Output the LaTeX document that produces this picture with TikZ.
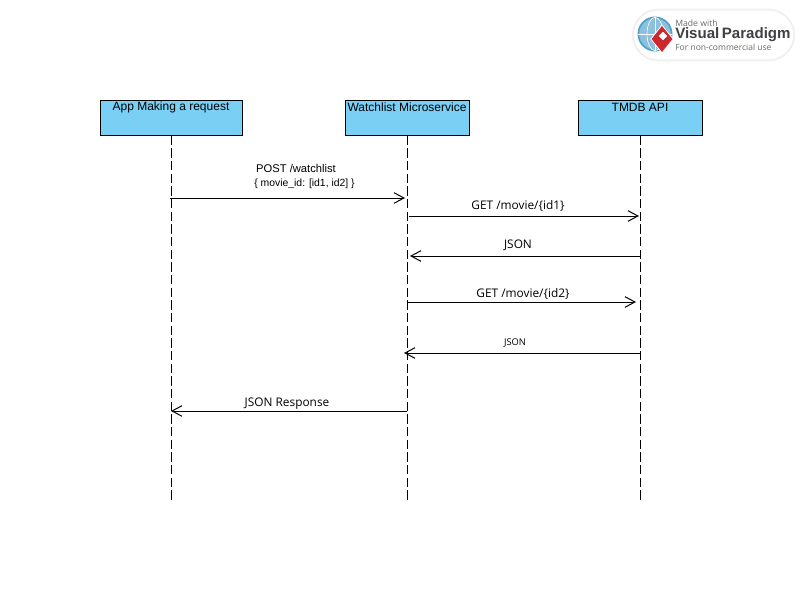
\documentclass[tikz,border=0pt]{standalone}
\usepackage{fontspec}
\setmainfont{Liberation Sans}
\newfontfamily\msgfont{Open Sans}
\usetikzlibrary{arrows.meta,
	shapes.geometric}
\definecolor{lifeblue}{rgb}{0.48, 0.81, 0.96}
\definecolor{globeblue}{rgb}{0.30, 0.62, 0.80}
\definecolor{badgered}{rgb}{0.80, 0.16, 0.18}
\definecolor{badgegray}{rgb}{0.42, 0.42, 0.42}
\definecolor{badgedark}{rgb}{0.25, 0.25, 0.27}
\begin{document}
\begin{tikzpicture}[x=0.75pt,y=-0.75pt]
      \tikzstyle{actor}=[draw=black,fill=lifeblue,line width=0.75pt,minimum height=26.25pt,inner sep=0pt]
      \tikzstyle{actortext}=[font=\fontsize{9}{10}\selectfont,inner sep=0pt]
      \tikzstyle{lifeline}=[black,line width=0.75pt,dash pattern=on 7pt off 2.5pt]
      \tikzstyle{message}=[black,line width=0.75pt,-{Straight Barb[length=7.5pt,width=8pt]}]
      \tikzstyle{msgtext}=[font=\msgfont\fontsize{8.9}{10}\selectfont,inner sep=0pt]
      \useasboundingbox (0,0) rectangle (803,601);
      % watermark
      \node[draw=black!6,line width=1.5pt,fill=white,rounded corners=19pt,minimum width=121pt,minimum height=38pt,inner sep=0pt] (badge) at (713.5,35) {};
      \node[circle,draw=globeblue,line width=1.2pt,fill=globeblue!65,minimum size=25pt,inner sep=0pt] (globe) at (655,34) {};
      \node[ellipse,draw=white,line width=0.5pt,minimum width=12pt,minimum height=25pt,inner sep=0pt] (meridian) at (655,34) {};
      \draw[white,line width=0.5pt] (globe.north) -- (globe.south) (globe.west) -- (globe.east);
      \node[diamond,draw=white,line width=0.6pt,fill=badgered,minimum width=17pt,minimum height=21pt,inner sep=0pt] (mark) at (662,39) {};
      \node[rectangle,draw=white,fill=white,rotate=45,minimum size=4pt,inner sep=0pt] (markhole) at (663,36) {};
      \node[anchor=west,text=badgegray,inner sep=0pt,font=\msgfont\fontsize{6.5}{7}\selectfont] (madewith) at (675,23) {Made with};
      \node[anchor=west,text=badgedark,inner sep=0pt,font=\bfseries\fontsize{11.3}{13}\selectfont] (vpname) at (675,35) {Visual\,Paradigm};
      \node[anchor=west,text=badgegray,inner sep=0pt,font=\msgfont\fontsize{6.4}{7}\selectfont] (noncomm) at (675,47) {For non-commercial use};
      % lifelines
      \node[actor,minimum width=106.5pt] (app) at (171,117.5) {};
      \node[actor,minimum width=93pt] (watch) at (407,117.5) {};
      \node[actor,minimum width=93pt] (tmdb) at (640,117.5) {};
      \node[actortext] (applabel) at (171,107.5) {App Making a request};
      \node[actortext] (watchlabel) at (407,107.5) {Watchlist Microservice};
      \node[actortext] (tmdblabel) at (640,107.5) {TMDB API};
      \coordinate (app_end) at (171,500);
      \coordinate (watch_end) at (407,500);
      \coordinate (tmdb_end) at (640,500);
      \draw[lifeline] (app.south) -- (app_end);
      \draw[lifeline] (watch.south) -- (watch_end);
      \draw[lifeline] (tmdb.south) -- (tmdb_end);
      % messages
      \coordinate (m_1a) at (170,198);
      \coordinate (m_1b) at (405,198);
      \coordinate (m_2a) at (409,216);
      \coordinate (m_2b) at (639,216);
      \coordinate (m_3a) at (640,256);
      \coordinate (m_3b) at (410,256);
      \coordinate (m_4a) at (407,302);
      \coordinate (m_4b) at (636,302);
      \coordinate (m_5a) at (640,353);
      \coordinate (m_5b) at (404,353);
      \coordinate (m_6a) at (407,411);
      \coordinate (m_6b) at (171,411);
      \draw[message] (m_1a) -- (m_1b);
      \draw[message] (m_2a) -- (m_2b);
      \draw[message] (m_3a) -- (m_3b);
      \draw[message] (m_4a) -- (m_4b);
      \draw[message] (m_5a) -- (m_5b);
      \draw[message] (m_6a) -- (m_6b);
      \node[inner sep=0pt,font=\fontsize{8.4}{10}\selectfont] (post) at (296,168.5) {POST /watchlist};
      \node[inner sep=0pt,font=\fontsize{7.8}{10}\selectfont] (body) at (304.5,183.5) {\{ movie\_id: [id1, id2] \}};
      \node[msgtext] (get_1) at (518,205.5) {GET /movie/\{id1\}};
      \node[msgtext] (json_1) at (518,245) {JSON};
      \node[msgtext] (get_2) at (523,293.5) {GET /movie/\{id2\}};
      \node[msgtext,font=\msgfont\fontsize{7}{8}\selectfont] (json_2) at (515,342.5) {JSON};
      \node[msgtext] (response) at (287,403.5) {JSON Response};
    \end{tikzpicture}
\end{document}
